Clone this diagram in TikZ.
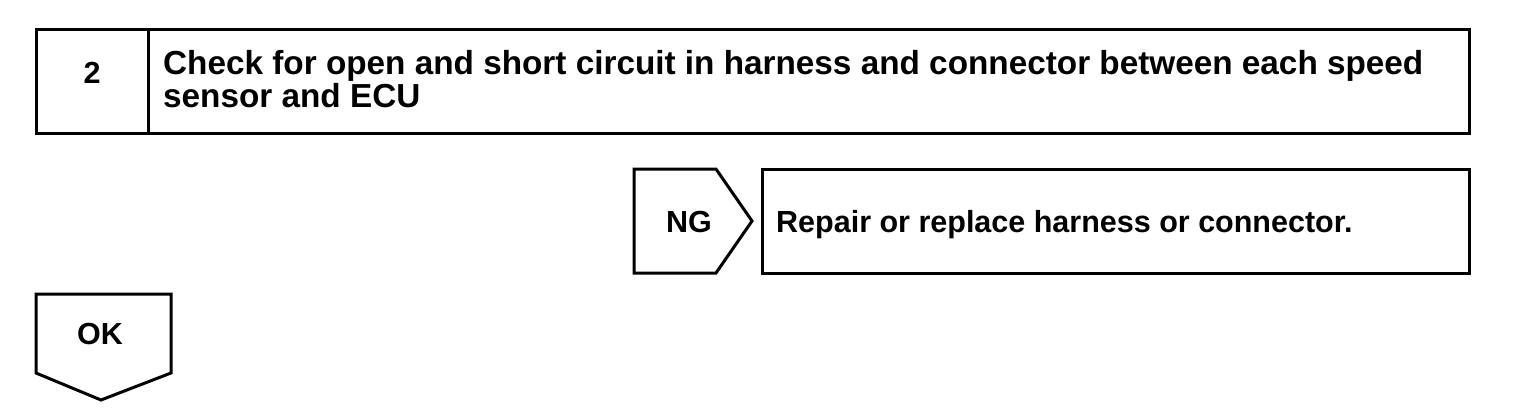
\documentclass[tikz,border=0pt]{standalone}
\usepackage{fontspec}
\setmainfont{Liberation Sans}
\begin{document}
\begin{tikzpicture}[x=1pt,y=-1pt,
  frame/.style={line width=3pt,line join=miter},
  lbl/.style={inner sep=0pt,anchor=base,font=\fontsize{30.5}{34}\selectfont\bfseries},
  lblw/.style={lbl,anchor=base west},
  ttl/.style={lblw,font=\fontsize{33.3}{36}\selectfont\bfseries}]
\useasboundingbox (0,0) rectangle (1536,416);
% step box
\draw[frame] (36,29) rectangle (1469,133);
\draw[frame] (148,29) -- (148,133);
\node[lbl] (num) at (92,83) {2};
\node[ttl] (t1) at (163,74) {Check for open and short circuit in harness and connector between each speed};
\node[ttl] (t2) at (163,107) {sensor and ECU};
% NG
\draw[frame] (634,169) -- (716,169) -- (752,221) -- (716,273) -- (634,273) -- cycle;
\node[lbl] (ng) at (689,232) {NG};
\draw[frame] (762,169) rectangle (1469,273);
\node[lblw] (rep) at (776,232) {Repair or replace harness or connector.};
% OK
\draw[frame] (36,294) -- (171,294) -- (171,373) -- (101,400) -- (36,373) -- cycle;
\node[lbl] (ok) at (100,344) {OK};
\end{tikzpicture}
\end{document}
